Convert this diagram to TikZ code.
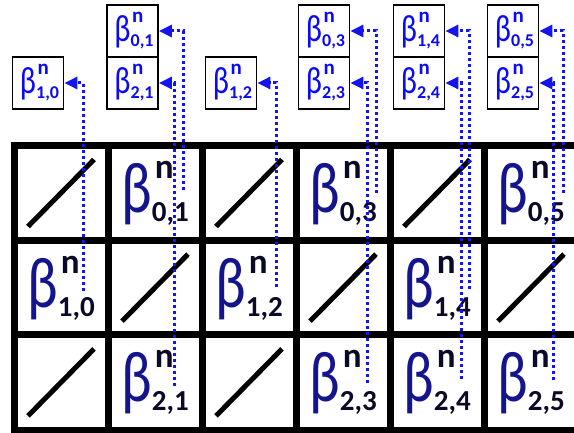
\documentclass[tikz,border=0pt]{standalone}
\usepackage{fontspec}
\setmainfont{Carlito}
\usetikzlibrary{arrows.meta}
\definecolor{navyb}{RGB}{20,20,140}
\definecolor{subc}{RGB}{10,10,40}
\definecolor{smallb}{RGB}{10,10,245}
\definecolor{dashb}{RGB}{20,20,240}
\newcommand\BigBeta[1]{\scalebox{0.8}[1]{\fontsize{72}{72}\selectfont\textcolor{navyb}{β}}\rlap{\kern3pt\raisebox{34pt}{\fontsize{35}{35}\selectfont\bfseries\textcolor{subc}{n}}}\raisebox{-9pt}{\fontsize{29}{29}\selectfont\bfseries\textcolor{subc}{#1}}}
\newcommand\SmallBeta[1]{\textcolor{smallb}{\scalebox{0.8}[1]{\fontsize{38}{38}\selectfont β}\rlap{\kern1.5pt\raisebox{19pt}{\fontsize{21}{21}\selectfont\bfseries n}}\raisebox{-5pt}{\fontsize{18}{18}\selectfont\bfseries #1}}}
\tikzset{
  gridline/.style={line width=7pt, line cap=rect},
  slash/.style={line width=5pt},
  bigcell/.style={inner sep=0pt, anchor=center},
  smallbox/.style={draw, line width=1.8pt, minimum width=51pt, minimum height=52pt, inner sep=0pt, text width=51pt, align=center},
  link/.style={dashb, line width=3pt, dash pattern=on 3.2pt off 2.8pt, -{Triangle[length=13pt,width=12pt]}}
}
\begin{document}
\begin{tikzpicture}[x=1pt,y=-1pt]
\useasboundingbox (0,0) rectangle (574,433);
\clip (0,0) rectangle (574,433);
\fill[white] (0,0) rectangle (574,433);
% grid
\foreach \c in {0,...,6} {\draw[gridline] (14+94*\c,146) -- (14+94*\c,430);}
\foreach \y in {146,240.5,335,430} {\draw[gridline] (14,\y) -- (600,\y);}
% diagonal slashes
\foreach \r/\c in {0/0,0/2,0/4,1/1,1/3,1/5,2/0,2/2} {
  \draw[slash] (61+94*\c-33,193+94.7*\r+33.5) -- (61+94*\c+33,193+94.7*\r-33.5);
}
% big betas
\node[bigcell] (c01) at (155,193) {\BigBeta{0,1}};
\node[bigcell] (c03) at (343,193) {\BigBeta{0,3}};
\node[bigcell] (c05) at (531,193) {\BigBeta{0,5}};
\node[bigcell] (c10) at (61,288) {\BigBeta{1,0}};
\node[bigcell] (c12) at (249,288) {\BigBeta{1,2}};
\node[bigcell] (c14) at (437,288) {\BigBeta{1,4}};
\node[bigcell] (c21) at (155,382.5) {\BigBeta{2,1}};
\node[bigcell] (c23) at (343,382.5) {\BigBeta{2,3}};
\node[bigcell] (c24) at (437,382.5) {\BigBeta{2,4}};
\node[bigcell] (c25) at (531,382.5) {\BigBeta{2,5}};
% small boxes
\node[smallbox] (b10) at (38,83) {\hspace*{3pt}\SmallBeta{1,0}};
\node[smallbox] (b01) at (132.5,31) {\hspace*{3pt}\SmallBeta{0,1}};
\node[smallbox] (b21) at (132.5,83) {\hspace*{3pt}\SmallBeta{2,1}};
\node[smallbox] (b12) at (231,83) {\hspace*{3pt}\SmallBeta{1,2}};
\node[smallbox] (b03) at (324,31) {\hspace*{3pt}\SmallBeta{0,3}};
\node[smallbox] (b23) at (324,83) {\hspace*{3pt}\SmallBeta{2,3}};
\node[smallbox] (b14) at (419,31) {\hspace*{3pt}\SmallBeta{1,4}};
\node[smallbox] (b24) at (419,83) {\hspace*{3pt}\SmallBeta{2,4}};
\node[smallbox] (b05) at (513,31) {\hspace*{3pt}\SmallBeta{0,5}};
\node[smallbox] (b25) at (513,83) {\hspace*{3pt}\SmallBeta{2,5}};
% line ends
\coordinate (e10) at (83,291);
\coordinate (e01) at (183,190);
\coordinate (e21) at (174,386);
\coordinate (e12) at (276,287);
\coordinate (e03) at (376,193);
\coordinate (e23) at (367,383);
\coordinate (e14) at (469,289);
\coordinate (e24) at (461,379);
\coordinate (e05) at (563,193);
\coordinate (e25) at (553,380);
\foreach \n in {10,01,21,12,03,23,14,24,05,25} {
  \draw[link] (e\n) |- (b\n.east);
}
\end{tikzpicture}
\end{document}
